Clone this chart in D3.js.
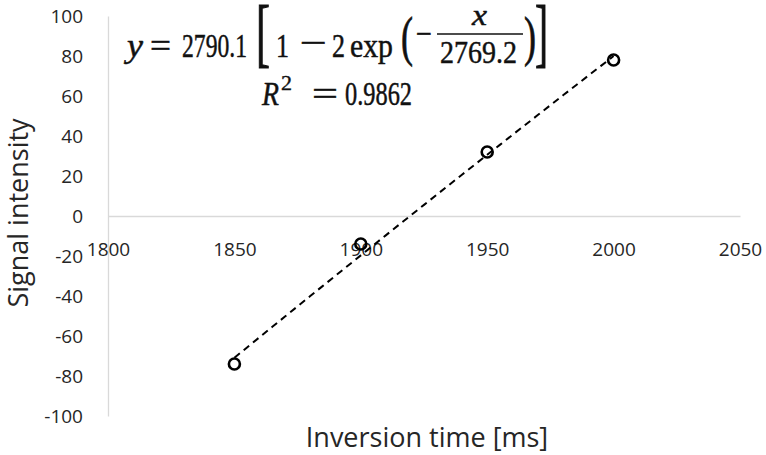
<!DOCTYPE html>
<html>
<head>
<meta charset="utf-8">
<script src="https://cdn.jsdelivr.net/npm/d3@7/dist/d3.min.js"></script>
<style>
  html, body { margin: 0; padding: 0; background: #fff; }
  svg { display: block; }
</style>
</head>
<body>
<svg id="chart" width="766" height="455"></svg>
<script>
// ---- data ----
const inversionTimes = [1850, 1900, 1950, 2000];
const signalValues = [-74, -14, 32, 78];
const xTicks = [1800, 1850, 1900, 1950, 2000, 2050];
const yTicks = [-100, -80, -60, -40, -20, 0, 20, 40, 60, 80, 100];
const fitParams = [2790.1, 2769.2];   // y = A [1 - 2 exp(-x / T)]
const fitRange = [1850, 2000];
const xTitle = "Inversion time [ms]";
const yTitle = "Signal intensity";

const svg = d3.select("#chart");
const x = d3.scaleLinear().domain([1800, 2050]).range([108, 740]);
const y = d3.scaleLinear().domain([-100, 100]).range([416, 16]);

const tickFont = "'Open Sans', 'Noto Sans', sans-serif";
const axisColor = "#d9d9d9";
const textColor = "#262626";

// y axis
const gy = svg.append("g")
  .attr("transform", `translate(${x(1800)},0)`)
  .call(d3.axisLeft(y).tickValues(yTicks).tickFormat(d => String(d)).tickSize(0).tickSizeOuter(0).tickPadding(25));
gy.select(".domain").attr("stroke", axisColor).attr("stroke-width", 1.3);
gy.selectAll("text").attr("font-family", tickFont).attr("font-size", 19).attr("fill", textColor);

// x axis at y = 0
const gx = svg.append("g")
  .attr("transform", `translate(0,${y(0)})`)
  .call(d3.axisBottom(x).tickValues(xTicks).tickFormat(d => String(d)).tickSize(0).tickSizeOuter(0).tickPadding(27));
gx.select(".domain").attr("stroke", axisColor).attr("stroke-width", 1.3);
gx.selectAll("text").attr("font-family", tickFont).attr("font-size", 19).attr("fill", textColor);

// fitted trend curve (from the displayed equation)
const [A, T] = fitParams;
const fitX = d3.range(fitRange[0], fitRange[1] + 0.001, 5);
const line = d3.line().x(d => x(d)).y(d => y(A * (1 - 2 * Math.exp(-d / T))));
svg.append("path")
  .datum(fitX)
  .attr("d", line)
  .attr("fill", "none")
  .attr("stroke", "#000")
  .attr("stroke-width", 2)
  .attr("stroke-dasharray", "7,5");

// markers
svg.append("g").selectAll("circle")
  .data(inversionTimes.map((t, i) => [t, signalValues[i]]))
  .join("circle")
  .attr("cx", d => x(d[0]))
  .attr("cy", d => y(d[1]))
  .attr("r", 5.5)
  .attr("fill", "none")
  .attr("stroke", "#000")
  .attr("stroke-width", 2.6);

// axis titles
svg.append("text")
  .attr("x", 427).attr("y", 447)
  .attr("text-anchor", "middle")
  .attr("font-family", tickFont).attr("font-size", 27).attr("fill", textColor)
  .text(xTitle);
svg.append("text")
  .attr("transform", "translate(28,213) rotate(-90)")
  .attr("text-anchor", "middle")
  .attr("font-family", tickFont).attr("font-size", 27).attr("fill", textColor)
  .text(yTitle);

// equation (serif, vertically stretched like the original text box)
const eq = svg.append("g")
  .attr("font-family", "'Liberation Serif', 'DejaVu Serif', serif")
  .attr("fill", "#111").attr("stroke", "#111").attr("stroke-width", 0.35);
function piece(str, px, base, w, sy, opts = {}) {
  const t = eq.append("text")
    .attr("transform", `translate(${px},${base}) scale(1,${sy})`)
    .attr("font-size", opts.size || 24)
    .text(str);
  if (opts.italic) t.attr("font-style", "italic");
  if (w) t.attr("textLength", w).attr("lengthAdjust", "spacingAndGlyphs");
  return t;
}
const S = 1.4;
const B1 = 57;
piece("y", 127, B1, 16, S, { italic: true });
piece("=", 150, B1, 21, S);
piece("2790.1", 182, B1, 65, S);
piece("[", 256, 58, 14, 3.16);
piece("1", 276, B1, 13, S);
piece("\u2212", 300, 54, 27, S);
piece("2", 332, B1, 13, S);
piece("exp", 350, B1, 43, S);
piece("(", 401, 55, 12, 2.3);
piece("\u2212", 416, 45, 16, S);
piece("x", 472, 25, 15, 1.3, { italic: true, size: 22 });
eq.append("line").attr("x1", 437).attr("x2", 523).attr("y1", 34).attr("y2", 34)
  .attr("stroke", "#111").attr("stroke-width", 1.5);
piece("2769.2", 440, 63, 77, 1.3);
piece(")", 524, 55, 12, 2.3);
piece("]", 535, 58, 13, 3.16);

const B2 = 105;
piece("R", 262, B2, 17, S, { italic: true });
piece("2", 281, 90, 11, 1.2, { size: 18 });
piece("=", 312, B2, 26, S);
piece("0.9862", 345, B2, 67, S);
</script>
</body>
</html>
